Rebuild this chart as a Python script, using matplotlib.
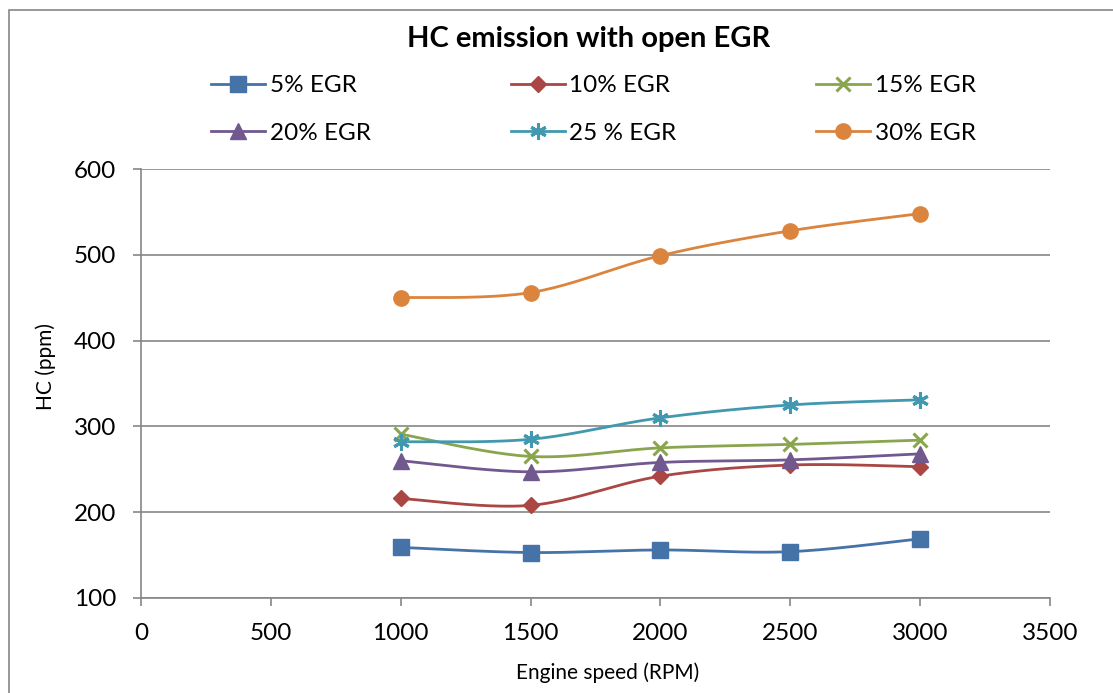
import matplotlib
matplotlib.use('Agg')
import matplotlib.pyplot as plt
from matplotlib.patches import Rectangle
import numpy as np

plt.rcParams['font.family'] = ['Lato', 'DejaVu Sans']

# engine speed and HC readings per EGR rate
rpm = [1000, 1500, 2000, 2500, 3000]
egr5 = [159, 153, 156, 154, 169]
egr10 = [216, 208, 242, 255, 253]
egr15 = [291, 265, 275, 279, 284]
egr20 = [260, 247, 258, 261, 268]
egr25 = [282, 285, 310, 325, 331]
egr30 = [450, 456, 499, 528, 548]
labels = ["5% EGR", "10% EGR", "15% EGR", "20% EGR", "25 % EGR", "30% EGR"]

colors = ["#4572A7", "#AA4643", "#89A54E", "#71588F", "#4198AF", "#DB843D"]
markers = ["s", "D", "x", "^", (6, 2, 0), "o"]
msizes = [11, 8, 9.5, 11, 12, 11]
GRID = "#868686"
FS = 17.5


def smooth(x, y, n=40):
    # excel-style smoothed line: cubic bezier with catmull-rom control points
    x = np.asarray(x, float); y = np.asarray(y, float)
    px = np.r_[x[0], x, x[-1]]; py = np.r_[y[0], y, y[-1]]
    t = np.linspace(0, 1, n)
    xs, ys = [], []
    for i in range(1, len(x)):
        p0 = np.array([px[i], py[i]]); p3 = np.array([px[i + 1], py[i + 1]])
        c1 = p0 + (p3 - np.array([px[i - 1], py[i - 1]])) / 6
        c2 = p3 - (np.array([px[i + 2], py[i + 2]]) - p0) / 6
        b = ((1 - t) ** 3)[:, None] * p0 + (3 * (1 - t) ** 2 * t)[:, None] * c1 \
            + (3 * (1 - t) * t ** 2)[:, None] * c2 + (t ** 3)[:, None] * p3
        xs.append(b[:, 0]); ys.append(b[:, 1])
    return np.concatenate(xs), np.concatenate(ys)


fig = plt.figure(figsize=(11.13, 6.93), dpi=100)
fig.patch.set_facecolor("white")
ax = fig.add_axes([141 / 1113, 1 - 598 / 693, 909 / 1113, 429 / 693])

# outer chart border
fig.add_artist(Rectangle((9 / 1113, -0.05), 1.1, 1 - 10 / 693 + 0.05,
                         transform=fig.transFigure, fill=False,
                         edgecolor=GRID, lw=1.2))

handles = []
for y, c, m, ms, lab in zip([egr5, egr10, egr15, egr20, egr25, egr30],
                            colors, markers, msizes, labels):
    mew = 2.2 if m in ("x", (6, 2, 0)) else 1
    sx, sy = smooth(rpm, y)
    ax.plot(sx, sy, color=c, lw=2.0, zorder=3)
    ax.plot(rpm, y, ls='none', marker=m, ms=ms, color=c, mec=c, mew=mew, zorder=4)
    h, = ax.plot([], [], color=c, lw=2.0, marker=m, ms=ms, mec=c, mew=mew, label=lab)
    handles.append(h)

ax.set_xlim(0, 3500)
ax.set_ylim(100, 600)
ax.set_xticks(np.arange(0, 3501, 500))
ax.set_yticks(np.arange(100, 601, 100))
ax.yaxis.grid(True, color=GRID, lw=1.2)
ax.set_axisbelow(True)
for s in ("top", "right"):
    ax.spines[s].set_visible(False)
for s in ("left", "bottom"):
    ax.spines[s].set_color(GRID)
    ax.spines[s].set_linewidth(1.2)
ax.tick_params(axis='both', colors=GRID, length=6, width=1.2,
               labelsize=FS, labelcolor="black")
ax.tick_params(axis='x', pad=12)
ax.tick_params(axis='y', pad=12)

# axis titles and chart title
fig.text(608 / 1113, 1 - 673 / 693, "Engine speed (RPM)",
         ha='center', va='center', fontsize=15)
fig.text(46 / 1113, 1 - 367 / 693, "HC (ppm)", rotation=90,
         ha='center', va='center', fontsize=15)
fig.text(589 / 1113, 1 - 38.5 / 693, "HC emission with open EGR",
         ha='center', va='center', fontsize=21, fontweight='bold')

# legend, row-major order in 3 columns
order = [0, 3, 1, 4, 2, 5]
fig.legend([handles[i] for i in order], [labels[i] for i in order],
           ncol=3, loc='upper left', bbox_to_anchor=(211 / 1113, 1 - 75 / 693),
           frameon=False, fontsize=FS, handlelength=2.22, handletextpad=0.2,
           columnspacing=5.75, labelspacing=1.09, borderpad=0, borderaxespad=0)

plt.savefig("out.png", dpi=100, facecolor="white")
plt.close()
